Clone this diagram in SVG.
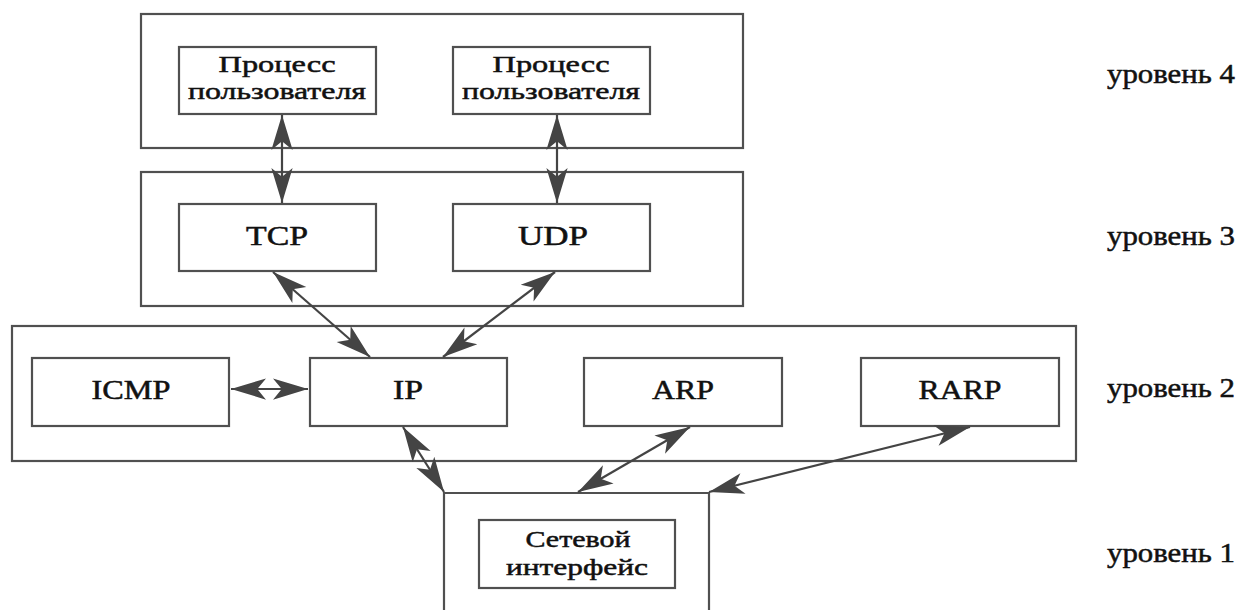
<svg xmlns="http://www.w3.org/2000/svg" width="1237" height="610" viewBox="0 0 1237 610">
<style>
.box{fill:none;stroke:#505050;stroke-width:2.2}
.t{font-family:"Liberation Serif","Times New Roman",serif;font-size:27px;fill:#111;stroke:#111;stroke-width:0.5;text-anchor:middle}
.t2{font-family:"Liberation Serif","Times New Roman",serif;font-size:24px;fill:#111;stroke:#111;stroke-width:0.5;text-anchor:middle}
.lv{font-family:"Liberation Serif","Times New Roman",serif;font-size:27px;fill:#111;stroke:#111;stroke-width:0.5}
.c{fill:none;stroke:#444;stroke-width:2.2}
</style>
<defs>
<marker id="ah" markerUnits="userSpaceOnUse" markerWidth="40" markerHeight="30" viewBox="-30 -12 32 24" refX="0" refY="0" orient="auto-start-reverse">
<path d="M0,0 L-28,-8.5 L-21,0 L-28,8.5 Z" fill="#444"/>
</marker>
</defs>
<rect width="1237" height="610" fill="#fff"/>

<g id="level4">
<rect class="box" x="141" y="14" width="602" height="134"/>
</g>
<g id="proc1">
<rect class="box" x="179" y="47" width="197" height="67"/>
<text class="t2" x="277" y="72" textLength="117" lengthAdjust="spacingAndGlyphs">Процесс</text>
<text class="t2" x="277" y="99" textLength="178" lengthAdjust="spacingAndGlyphs">пользователя</text>
</g>
<g id="proc2">
<rect class="box" x="453" y="47" width="197" height="67"/>
<text class="t2" x="551" y="72" textLength="117" lengthAdjust="spacingAndGlyphs">Процесс</text>
<text class="t2" x="551" y="99" textLength="178" lengthAdjust="spacingAndGlyphs">пользователя</text>
</g>

<g id="level3">
<rect class="box" x="141" y="172" width="602" height="134"/>
</g>
<g id="tcp">
<rect class="box" x="179" y="204" width="197" height="67"/>
<text class="t" x="277" y="245" textLength="62" lengthAdjust="spacingAndGlyphs">TCP</text>
</g>
<g id="udp">
<rect class="box" x="453" y="204" width="197" height="67"/>
<text class="t" x="553" y="245" textLength="70" lengthAdjust="spacingAndGlyphs">UDP</text>
</g>

<g id="level2">
<rect class="box" x="12" y="326" width="1064" height="135"/>
</g>
<g id="icmp">
<rect class="box" x="32" y="358" width="197" height="68"/>
<text class="t" x="131" y="399" textLength="79" lengthAdjust="spacingAndGlyphs">ICMP</text>
</g>
<g id="ip">
<rect class="box" x="310" y="358" width="197" height="68"/>
<text class="t" x="408" y="399" textLength="30" lengthAdjust="spacingAndGlyphs">IP</text>
</g>
<g id="arp">
<rect class="box" x="584" y="358" width="198" height="68"/>
<text class="t" x="683" y="399" textLength="62" lengthAdjust="spacingAndGlyphs">ARP</text>
</g>
<g id="rarp">
<rect class="box" x="861" y="358" width="198" height="68"/>
<text class="t" x="960" y="399" textLength="83" lengthAdjust="spacingAndGlyphs">RARP</text>
</g>

<g id="level1">
<path class="box" d="M444,612 V493 H709 V612"/>
</g>
<g id="netif">
<rect class="box" x="479" y="520" width="196" height="68"/>
<text class="t2" x="578" y="547" textLength="105" lengthAdjust="spacingAndGlyphs">Сетевой</text>
<text class="t2" x="577" y="575" textLength="142" lengthAdjust="spacingAndGlyphs">интерфейс</text>
</g>

<g id="labels">
<text class="lv" x="1107" y="83" textLength="128" lengthAdjust="spacingAndGlyphs">уровень 4</text>
<text class="lv" x="1107" y="245" textLength="128" lengthAdjust="spacingAndGlyphs">уровень 3</text>
<text class="lv" x="1107" y="397" textLength="128" lengthAdjust="spacingAndGlyphs">уровень 2</text>
<text class="lv" x="1107" y="562" textLength="128" lengthAdjust="spacingAndGlyphs">уровень 1</text>
</g>

<g id="connectors">
<line class="c" x1="282" y1="115" x2="282" y2="203" marker-start="url(#ah)" marker-end="url(#ah)"/>
<line class="c" x1="557" y1="115" x2="557" y2="203" marker-start="url(#ah)" marker-end="url(#ah)"/>
<line class="c" x1="273" y1="272" x2="370" y2="357" marker-start="url(#ah)" marker-end="url(#ah)"/>
<line class="c" x1="555" y1="272" x2="443" y2="357" marker-start="url(#ah)" marker-end="url(#ah)"/>
<line class="c" x1="231" y1="389" x2="308" y2="389" marker-start="url(#ah)" marker-end="url(#ah)"/>
<line class="c" x1="403" y1="427" x2="444" y2="492" marker-start="url(#ah)" marker-end="url(#ah)"/>
<line class="c" x1="690" y1="427" x2="578" y2="492" marker-start="url(#ah)" marker-end="url(#ah)"/>
<line class="c" x1="970" y1="427" x2="709" y2="492" marker-start="url(#ah)" marker-end="url(#ah)"/>
</g>
</svg>
